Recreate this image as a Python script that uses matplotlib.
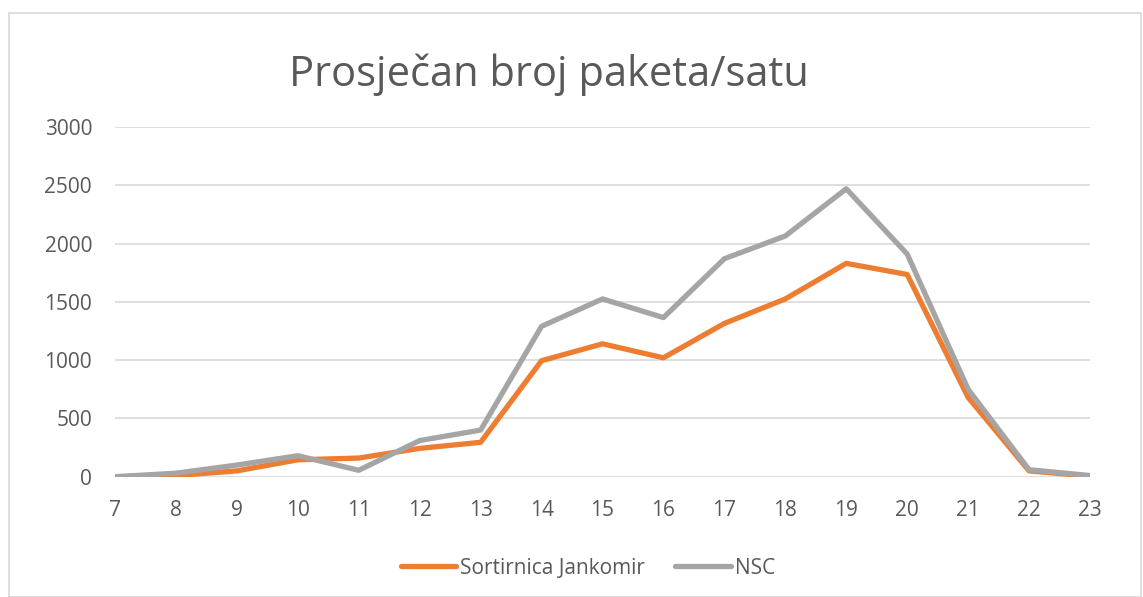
import matplotlib
matplotlib.use("Agg")
import matplotlib.pyplot as plt
from matplotlib.patches import Rectangle

hours = [7, 8, 9, 10, 11, 12, 13, 14, 15, 16, 17, 18, 19, 20, 21, 22, 23]
jankomir = [0, 10, 50, 145, 160, 243, 295, 995, 1140, 1020, 1315, 1525, 1830, 1735, 680, 50, 5]
nsc = [0, 30, 100, 180, 55, 310, 400, 1290, 1525, 1365, 1870, 2065, 2470, 1910, 750, 60, 10]
yticks = [0, 500, 1000, 1500, 2000, 2500, 3000]
title = "Prosječan broj paketa/satu"
labels = ["Sortirnica Jankomir", "NSC"]

W, H = 1143, 597
fig = plt.figure(figsize=(W / 100, H / 100), dpi=100)
fam = ["Open Sans", "DejaVu Sans"]
txt = "#595959"

fig.patches.append(Rectangle((8.5 / W, 0), (1141 - 8.5) / W, 1 - 12.5 / H, transform=fig.transFigure,
                             fill=False, edgecolor="#D9D9D9", linewidth=1.2))

ax = fig.add_axes([115 / W, 1 - 476.7 / H, (1090 - 115) / W, (476.7 - 127) / H])
ax.plot(hours, jankomir, color="#ED7D31", lw=3.8, solid_capstyle="round", solid_joinstyle="round", label=labels[0], zorder=3)
ax.plot(hours, nsc, color="#A5A5A5", lw=3.8, solid_capstyle="round", solid_joinstyle="round", label=labels[1], zorder=4)

ax.set_xlim(7, 23)
ax.set_ylim(0, 3000)
ax.set_xticks(hours)
ax.set_xticklabels([str(h) for h in hours], fontfamily=fam, fontsize=15, color=txt)
ax.set_yticks(yticks)
ax.set_yticklabels([str(v) for v in yticks], fontfamily=fam, fontsize=15, color=txt)
ax.tick_params(axis="both", length=0)
ax.tick_params(axis="y", pad=16.5)
ax.tick_params(axis="x", pad=17)
ax.grid(axis="y", color="#D9D9D9", lw=1.2)
ax.set_axisbelow(True)
for s in ax.spines.values():
    s.set_visible(False)

fig.text(549 / W, 1 - 75 / H, title, ha="center", va="center", fontfamily=fam, fontsize=30, color=txt)

leg = fig.legend(loc="center", bbox_to_anchor=(588 / W, 1 - 568 / H), ncol=2, frameon=False,
                 prop={"family": fam, "size": 15}, handlelength=2.65, handletextpad=0.2, columnspacing=1.45)
for t in leg.get_texts():
    t.set_color(txt)

fig.savefig("out.png", dpi=100)
